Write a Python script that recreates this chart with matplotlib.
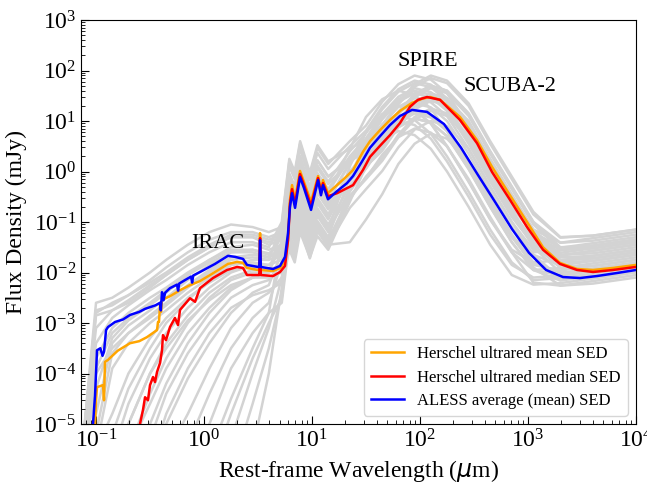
import numpy as np
import matplotlib
matplotlib.use('Agg')
import matplotlib.pyplot as plt

plt.rcParams['font.family'] = ['Liberation Serif', 'DejaVu Serif']
plt.rcParams['mathtext.fontset'] = 'custom'
plt.rcParams['mathtext.rm'] = 'Liberation Serif'
plt.rcParams['mathtext.it'] = 'Liberation Serif:italic'
plt.rcParams['mathtext.bf'] = 'Liberation Serif:bold'

# ---------------- data (log10 wavelength [um], log10 flux [mJy]) ----------------
grey_loglam = [-1.15, -1.0, -0.85, -0.7, -0.5, -0.35, -0.15, 0.05, 0.25, 0.45, 0.6,
               0.72, 0.79, 0.84, 0.89, 0.98, 1.05, 1.15, 1.35, 1.5, 1.65, 1.8, 1.95,
               2.1, 2.25, 2.45, 2.65, 2.85, 3.05, 3.3, 3.6, 4.0]

grey_01 = [-6,-2.6,-2.5,-2.3,-2.0,-1.75,-1.45,-1.2,-1.05,-1.1,-1.2,-1.1,-0.2,-0.45,0.15,-0.47,0.07,-0.25,0.2,0.46,0.93,1.28,1.45,1.37,1.10,0.45,-0.30,-1.0,-1.55,-1.76,-1.72,-1.6]
grey_02 = [-6,-2.85,-2.75,-2.6,-2.3,-2.05,-1.75,-1.5,-1.3,-1.3,-1.4,-1.3,-0.7,-0.95,-0.35,-0.97,-0.43,-0.75,-0.15,0.16,0.63,0.98,1.15,1.07,0.80,0.15,-0.60,-1.3,-1.85,-1.96,-1.87,-1.75]
grey_03 = [-6,-3.4,-2.9,-2.65,-2.35,-2.15,-1.85,-1.6,-1.4,-1.4,-1.5,-1.0,0.25,0.0,0.6,-0.02,0.52,0.2,0.45,0.62,0.86,1.33,1.68,1.85,1.75,1.30,0.55,-0.15,-0.85,-1.31,-1.27,-1.15]
grey_04 = [-6,-3.7,-3.1,-2.8,-2.5,-2.3,-2.0,-1.75,-1.55,-1.55,-1.62,-1.45,-0.5,-0.75,-0.15,-0.77,-0.23,-0.55,0.15,0.56,1.03,1.38,1.55,1.47,1.20,0.55,-0.20,-0.9,-1.45,-1.66,-1.57,-1.45]
grey_05 = [-6,-4.8,-3.4,-3.05,-2.75,-2.5,-2.15,-1.85,-1.6,-1.55,-1.65,-1.3,-0.05,-0.3,0.3,-0.32,0.22,-0.1,0.2,0.4,0.71,1.18,1.53,1.7,1.6,1.15,0.4,-0.3,-1.0,-1.5,-1.47,-1.35]
grey_06 = [-6,-4.3,-3.3,-2.95,-2.65,-2.4,-2.05,-1.75,-1.5,-1.45,-1.55,-1.45,-1.0,-1.25,-0.65,-1.27,-0.73,-1.05,-0.28,0.06,0.53,0.88,1.05,0.97,0.70,0.05,-0.70,-1.4,-1.95,-2.06,-1.97,-1.85]
grey_07 = [-6,-6,-5.6,-4.6,-3.7,-3.2,-2.7,-2.3,-2.0,-1.85,-1.85,-1.6,-0.35,-0.6,0.0,-0.62,-0.08,-0.4,-0.1,0.1,0.41,0.88,1.23,1.4,1.3,0.85,0.1,-0.6,-1.3,-1.8,-1.77,-1.65]
grey_08 = [-6,-5.5,-4.8,-4.0,-3.3,-2.9,-2.5,-2.2,-1.95,-1.9,-1.95,-1.85,-1.3,-1.55,-0.95,-1.57,-1.03,-1.35,-0.48,-0.14,0.33,0.68,0.85,0.77,0.50,-0.15,-0.90,-1.6,-2.2,-2.26,-2.17,-2.05]
grey_09 = [-6,-6,-6,-6,-5.3,-4.4,-3.6,-3.0,-2.5,-2.25,-2.15,-1.8,-0.55,-0.8,-0.2,-0.82,-0.28,-0.6,0.2,0.78,1.13,1.3,1.22,0.95,0.5,-0.2,-0.95,-1.6,-1.95,-1.91,-1.82,-1.7]
grey_10 = [-6,-6,-6,-5.5,-4.6,-3.9,-3.2,-2.7,-2.3,-2.1,-2.0,-1.15,0.1,-0.15,0.45,-0.17,0.37,0.05,0.5,0.81,1.28,1.63,1.8,1.72,1.45,0.8,0.05,-0.65,-1.2,-1.51,-1.42,-1.3]
grey_11 = [-6,-6,-6,-6,-6,-6,-5.4,-4.4,-3.5,-2.9,-2.6,-1.8,-0.55,-0.8,-0.2,-0.82,-0.28,-0.6,-0.15,0.2,0.56,1.03,1.38,1.55,1.45,1.0,0.25,-0.45,-1.15,-1.65,-1.62,-1.5]
grey_12 = [-6,-6,-6,-6,-6,-5.6,-4.8,-3.9,-3.1,-2.6,-2.4,-2.1,-1.45,-1.7,-1.1,-1.6,-1.18,-1.45,-1.4,-0.95,-0.45,0.15,0.55,0.75,0.65,0.2,-0.55,-1.25,-1.9,-2.26,-2.22,-2.1]
grey_13 = [-6,-6,-6,-6,-6,-6,-6,-6,-5.3,-4.0,-3.1,-2.1,-0.85,-1.1,-0.5,-1.12,-0.58,-0.9,-0.12,0.21,0.68,1.03,1.2,1.12,0.85,0.2,-0.55,-1.25,-1.8,-2.01,-1.92,-1.8]
grey_14 = [-6,-6,-6,-6,-6,-6,-6,-5.6,-4.5,-3.5,-2.8,-2.6,-1.4,-1.65,-1.05,-1.67,-1.13,-1.45,-0.72,-0.35,0.01,0.48,0.83,1.0,0.9,0.45,-0.3,-1.0,-1.65,-2.11,-2.07,-1.95]
grey_15 = [-6,-3.1,-2.75,-2.55,-2.25,-2.05,-1.75,-1.5,-1.3,-1.3,-1.45,-1.35,-1.1,-1.35,-0.75,-1.37,-0.83,-1.15,0.1,0.78,1.13,1.3,1.22,0.95,0.5,-0.2,-0.95,-1.55,-1.8,-1.76,-1.67,-1.55]
grey_16 = [-6,-5.2,-3.6,-3.2,-2.85,-2.6,-2.25,-1.95,-1.7,-1.65,-1.7,-1.5,-0.3,-0.55,0.05,-0.57,-0.03,-0.35,0.3,0.66,1.13,1.48,1.65,1.57,1.30,0.65,-0.10,-0.8,-1.35,-1.61,-1.52,-1.4]
grey_17 = [-6,-6,-6,-5.0,-4.0,-3.4,-2.85,-2.4,-2.1,-1.95,-1.95,-1.85,-0.65,-0.9,-0.3,-0.92,-0.38,-0.7,-0.02,0.38,0.71,1.18,1.53,1.7,1.6,1.15,0.4,-0.3,-1.0,-1.41,-1.37,-1.25]
grey_18 = [-6,-6,-6,-6,-5.8,-4.8,-3.9,-3.2,-2.7,-2.45,-2.35,-2.2,-1.55,-1.8,-1.2,-1.7,-1.28,-1.55,-0.6,0.1,0.63,0.8,0.72,0.45,0.0,-0.7,-1.45,-2.05,-2.24,-2.21,-2.12,-2.0]
grey_19 = [-6,-2.75,-2.65,-2.45,-2.15,-1.9,-1.6,-1.35,-1.2,-1.2,-1.3,-1.2,-0.9,-1.15,-0.55,-1.17,-0.63,-0.95,-0.1,0.48,0.83,1.0,0.92,0.65,0.2,-0.5,-1.25,-1.85,-2.1,-2.06,-1.97,-1.85]
grey_20 = [-6,-6,-6,-6,-6,-6,-6,-5.0,-3.9,-3.2,-2.8,-1.3,-0.05,-0.3,0.3,-0.32,0.22,-0.1,0.25,0.58,0.91,1.38,1.73,1.9,1.8,1.35,0.6,-0.1,-0.8,-1.3,-1.27,-1.15]
grey_21 = [-6,-6,-6,-6,-6,-6,-6,-6,-6,-4.6,-3.5,-2.4,-1.15,-1.4,-0.8,-1.42,-0.88,-1.2,-0.35,0.1,0.46,0.93,1.28,1.45,1.35,0.9,0.15,-0.55,-1.25,-1.75,-1.72,-1.6]
grey_22 = [-6,-6,-5.2,-4.3,-3.5,-3.0,-2.55,-2.15,-1.85,-1.75,-1.75,-1.05,0.2,-0.05,0.55,-0.07,0.47,0.15,0.6,0.91,1.38,1.73,1.9,1.82,1.55,0.9,0.15,-0.55,-1.15,-1.41,-1.32,-1.2]
grey_23 = [-6,-5.5,-3.9,-3.4,-3.0,-2.75,-2.4,-2.1,-1.85,-1.8,-1.85,-1.75,-1.35,-1.6,-1.0,-1.62,-1.08,-1.4,-0.55,-0.1,0.26,0.73,1.08,1.25,1.15,0.7,-0.05,-0.75,-1.45,-1.91,-1.87,-1.75]
grey_24 = [-6,-6,-6,-6,-6,-5.0,-4.1,-3.4,-2.8,-2.4,-2.25,-1.6,-0.35,-0.6,0.0,-0.62,-0.08,-0.4,0.25,0.61,1.08,1.43,1.6,1.52,1.25,0.6,-0.15,-0.85,-1.4,-1.66,-1.57,-1.45]
grey_25 = [-6,-3.9,-3.2,-2.9,-2.6,-2.35,-2.05,-1.8,-1.6,-1.6,-1.7,-1.6,-0.8,-1.05,-0.45,-1.07,-0.53,-0.85,0.0,0.36,0.83,1.18,1.35,1.27,1.0,0.35,-0.4,-1.1,-1.65,-1.86,-1.77,-1.65]
grey_26 = [-6,-6,-6,-5.5,-4.4,-3.7,-3.0,-2.5,-2.15,-2.0,-2.0,-1.4,-0.15,-0.4,0.2,-0.42,0.12,-0.2,0.4,0.76,1.23,1.58,1.75,1.67,1.4,0.75,0.0,-0.7,-1.25,-1.56,-1.47,-1.35]
grey_27 = [-6,-6,-6,-6,-6,-6,-6,-6,-4.8,-3.7,-3.0,-2.5,-1.25,-1.5,-0.9,-1.52,-0.98,-1.3,-0.1,0.58,0.93,1.1,1.02,0.75,0.3,-0.4,-1.15,-1.8,-2.15,-2.11,-2.02,-1.9]
grey_28 = [-6,-4.0,-3.5,-3.2,-2.9,-2.65,-2.3,-2.0,-1.75,-1.7,-1.75,-1.65,-0.6,-0.85,-0.25,-0.87,-0.33,-0.65,-0.2,0.15,0.51,0.98,1.33,1.5,1.4,0.95,0.2,-0.5,-1.2,-1.7,-1.67,-1.55]
grey_29 = [-6,-6,-6,-6,-5.0,-4.2,-3.4,-2.8,-2.35,-2.1,-2.0,-1.9,-1.05,-1.3,-0.7,-1.32,-0.78,-1.1,-0.5,-0.15,0.21,0.68,1.03,1.2,1.1,0.65,-0.1,-0.8,-1.5,-2.0,-1.97,-1.85]
grey_30 = [-6,-2.8,-2.6,-2.45,-2.2,-2.0,-1.7,-1.45,-1.25,-1.25,-1.35,-1.25,-0.4,-0.65,-0.05,-0.67,-0.13,-0.45,0.45,1.08,1.43,1.6,1.52,1.25,0.8,0.1,-0.65,-1.3,-1.6,-1.56,-1.47,-1.35]
grey_31 = [-6,-6,-6,-6,-6,-6,-6,-6,-6,-5.5,-4.0,-2.3,-0.65,-0.9,-0.3,-0.92,-0.38,-0.7,-0.1,0.3,0.66,1.13,1.48,1.65,1.55,1.1,0.35,-0.35,-1.05,-1.55,-1.52,-1.4]
grey_32 = [-6,-6,-5.8,-5.0,-4.0,-3.5,-2.95,-2.55,-2.25,-2.1,-2.1,-2.0,-1.45,-1.7,-1.1,-1.72,-1.18,-1.5,-0.4,0.06,0.53,0.88,1.05,0.97,0.70,0.05,-0.70,-1.4,-1.95,-2.16,-2.07,-1.95]

mean_loglam = [-1.009,-1.0,-0.991,-0.935,-0.926,-0.917,-0.889,-0.80,-0.685,-0.60,-0.528,-0.435,-0.426,-0.417,-0.407,-0.398,-0.389,
               -0.315,-0.222,-0.13,-0.037,0.102,0.222,0.306,0.361,0.398,0.50,0.512,0.519,0.526,0.639,0.704,0.75,0.778,0.796,
               0.815,0.843,0.889,0.926,0.991,1.056,1.083,1.102,1.148,1.231,1.324,1.380,1.472,1.537,1.630,1.722,1.815,1.926,
               2.019,2.093,2.185,2.370,2.528,2.667,2.833,2.991,3.139,3.296,3.454,3.602,3.787,4.0]
mean_logflux = [-5.0,-4.53,-4.27,-4.23,-4.53,-3.77,-3.73,-3.55,-3.40,-3.36,-3.28,-3.14,-2.98,-2.98,-2.64,-2.78,-2.54,
                -2.47,-2.35,-2.25,-2.17,-1.99,-1.83,-1.79,-1.81,-1.91,-1.95,-1.95,-1.22,-1.95,-1.97,-1.91,-1.79,-1.32,-0.56,
                -0.27,-0.56,0.01,-0.21,-0.60,-0.09,-0.37,-0.17,-0.43,-0.27,-0.09,0.03,0.39,0.60,0.82,1.02,1.20,1.36,
                1.44,1.475,1.42,1.08,0.62,0.09,-0.47,-1.00,-1.50,-1.81,-1.93,-1.95,-1.91,-1.85]

median_loglam = [-0.593,-0.565,-0.546,-0.519,-0.5,-0.472,-0.454,-0.435,-0.407,-0.389,-0.380,-0.352,-0.315,-0.269,-0.241,-0.222,
                 -0.13,-0.083,-0.037,0.083,0.213,0.306,0.361,0.398,0.50,0.512,0.519,0.526,0.639,0.704,0.75,0.778,0.796,0.815,
                 0.843,0.889,0.926,0.991,1.056,1.083,1.102,1.148,1.231,1.324,1.380,1.472,1.537,1.630,1.722,1.815,1.907,1.981,
                 2.065,2.185,2.370,2.528,2.667,2.833,2.991,3.139,3.296,3.454,3.602,3.787,4.0]
median_logflux = [-5.0,-4.72,-4.47,-4.53,-4.23,-4.07,-4.17,-3.97,-3.79,-3.54,-3.24,-3.34,-3.08,-2.90,-3.04,-2.74,
                  -2.51,-2.58,-2.31,-2.11,-1.95,-1.89,-1.91,-2.05,-2.05,-2.05,-1.32,-2.05,-2.07,-1.99,-1.87,-1.36,-0.64,-0.35,
                  -0.64,-0.05,-0.27,-0.68,-0.13,-0.43,-0.23,-0.49,-0.43,-0.33,-0.27,0.03,0.29,0.51,0.72,0.96,1.28,1.42,
                  1.475,1.42,1.02,0.56,-0.01,-0.56,-1.10,-1.55,-1.83,-1.95,-1.99,-1.95,-1.89]

aless_loglam = [-1.028,-1.009,-0.995,-0.991,-0.96,-0.94,-0.926,-0.907,-0.889,-0.824,-0.75,-0.685,-0.60,-0.546,-0.45,-0.407,-0.40,
                -0.389,-0.375,-0.36,-0.315,-0.25,-0.24,-0.23,-0.176,-0.12,-0.11,-0.10,-0.037,0.102,0.222,0.287,0.361,0.398,
                0.50,0.512,0.519,0.526,0.639,0.704,0.75,0.778,0.796,0.815,0.843,0.889,0.926,0.991,1.056,1.083,1.102,1.148,
                1.231,1.324,1.380,1.472,1.537,1.630,1.722,1.815,1.926,2.065,2.222,2.380,2.537,2.694,2.852,3.009,3.167,3.324,
                3.481,3.639,3.824,4.0]
aless_logflux = [-5.0,-4.43,-3.75,-3.54,-3.50,-3.65,-3.57,-3.14,-3.08,-2.98,-2.93,-2.84,-2.78,-2.72,-2.65,-2.60,-2.75,
                 -2.39,-2.55,-2.40,-2.31,-2.24,-2.36,-2.22,-2.15,-2.08,-2.20,-2.06,-1.99,-1.83,-1.67,-1.69,-1.73,-1.85,
                 -1.89,-1.89,-1.36,-1.89,-1.93,-1.87,-1.69,-1.22,-0.70,-0.43,-0.72,-0.11,-0.33,-0.76,-0.17,-0.47,-0.27,-0.55,
                 -0.39,-0.23,-0.09,0.23,0.47,0.70,0.92,1.10,1.22,1.18,0.94,0.47,-0.07,-0.60,-1.14,-1.61,-1.95,-2.09,
                 -2.11,-2.07,-2.01,-1.95]

series_labels = ['Herschel ultrared mean SED', 'Herschel ultrared median SED', 'ALESS average (mean) SED']
series_colors = ['orange', 'red', 'blue']
band_labels = ['IRAC', 'SPIRE', 'SCUBA-2']
band_pos_um = [1.35, 118.0, 680.0]
band_pos_mjy = [0.038, 150.0, 48.0]

# ---------------- figure ----------------
fig = plt.figure(figsize=(6.47, 4.84), dpi=100)
ax = fig.add_axes([81/647, 60/484, 555/647, 404/484])

grey_curves = [grey_01, grey_02, grey_03, grey_04, grey_05, grey_06, grey_07, grey_08,
               grey_09, grey_10, grey_11, grey_12, grey_13, grey_14, grey_15, grey_16,
               grey_17, grey_18, grey_19, grey_20, grey_21, grey_22, grey_23, grey_24,
               grey_25, grey_26, grey_27, grey_28, grey_29, grey_30, grey_31, grey_32]
glam = 10**np.array(grey_loglam)
for g in grey_curves:
    ax.plot(glam, 10**np.array(g), color='#d3d3d3', lw=1.8, zorder=1,
            solid_joinstyle='round', solid_capstyle='round')

for lam, flx, lab, col in [(mean_loglam, mean_logflux, series_labels[0], series_colors[0]),
                           (median_loglam, median_logflux, series_labels[1], series_colors[1]),
                           (aless_loglam, aless_logflux, series_labels[2], series_colors[2])]:
    ax.plot(10**np.array(lam), 10**np.array(flx), color=col, lw=1.8, label=lab, zorder=3)

ax.set_xscale('log')
ax.set_yscale('log')
ax.set_xlim(0.0726, 1e4)
ax.set_ylim(1e-5, 1e3)

for t, xx, yy in zip(band_labels, band_pos_um, band_pos_mjy):
    ax.text(xx, yy, t, fontsize=16, ha='center', va='center')

ax.set_xlabel(r'Rest-frame Wavelength ($\mu$m)', fontsize=17, math_fontfamily='dejavusans')
ax.set_ylabel('Flux Density (mJy)', fontsize=17)
ax.tick_params(which='both', direction='in', top=False, right=False, labelsize=17)
ax.tick_params(which='major', length=6)
ax.tick_params(which='minor', length=3)
ax.yaxis.set_major_locator(matplotlib.ticker.LogLocator(base=10, numticks=20))
ax.yaxis.set_minor_locator(matplotlib.ticker.LogLocator(base=10, subs=np.arange(2, 10), numticks=20))

ax.legend(loc='lower right', fontsize=12, handlelength=2.0, borderaxespad=0.5, labelspacing=0.45)

fig.savefig('out.png', dpi=100)
